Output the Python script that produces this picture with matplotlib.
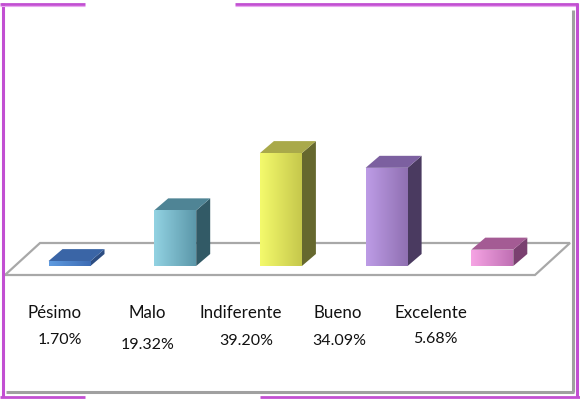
import matplotlib
matplotlib.use("Agg")
import matplotlib.pyplot as plt
import numpy as np
from matplotlib.patches import Polygon, Rectangle
from matplotlib.colors import LinearSegmentedColormap
from matplotlib.lines import Line2D

# ---- data ----
categories = ["Pésimo", "Malo", "Indiferente", "Bueno", "Excelente"]
values = [1.70, 19.32, 39.20, 34.09, 5.68]
pct_labels = ["1.70%", "19.32%", "39.20%", "34.09%", "5.68%"]

# ---- styles ----
front_left = ["#5f9be0", "#92d2e2", "#f4fa6c", "#bd9ce6", "#f6a4e4"]
front_right = ["#3d6cb4", "#5c98aa", "#c6c84c", "#9070b2", "#c070b4"]
top_col = ["#3a65a6", "#4f8495", "#a9a94a", "#7c60a0", "#a45b94"]
side_col = ["#2c4d82", "#325a66", "#66682e", "#4a3a60", "#7a4070"]

W, H = 580, 399
fig = plt.figure(figsize=(W / 100, H / 100), dpi=100)
ax = fig.add_axes([0, 0, 1, 1])
# axes scale: category units horizontally, percent vertically
px_per_cat = 105.7
px_per_pct = 2.88
x0_pix, base_pix = 69.5, 266
ax.set_xlim(-x0_pix / px_per_cat, (W - x0_pix) / px_per_cat)
ax.set_ylim(-(H - base_pix) / px_per_pct, base_pix / px_per_pct)
ax.axis("off")

# floor
fdx = 35 / px_per_cat
fy0 = -9 / px_per_pct
fy1 = 23 / px_per_pct
fxl = -64.5 / px_per_cat
fxr = 465.5 / px_per_cat
floor = Polygon([(fxl, fy0), (fxr, fy0), (fxr + fdx, fy1), (fxl + fdx, fy1)],
                closed=True, facecolor="white", edgecolor="#a8a8a8", lw=1.6, zorder=1)
ax.add_patch(floor)

bw = 42 / px_per_cat
ddx = 14 / px_per_cat
ddy = 12 / px_per_pct

for i, v in enumerate(values):
    xl = i - bw / 2
    xr = i + bw / 2
    side = Polygon([(xr, 0), (xr + ddx, ddy), (xr + ddx, v + ddy), (xr, v)],
                   closed=True, facecolor=side_col[i], edgecolor="none", zorder=3)
    ax.add_patch(side)
    top = Polygon([(xl, v), (xr, v), (xr + ddx, v + ddy), (xl + ddx, v + ddy)],
                  closed=True, facecolor=top_col[i], edgecolor="none", zorder=3)
    ax.add_patch(top)
    cmap = LinearSegmentedColormap.from_list("g%d" % i, [front_left[i], front_right[i]])
    grad = np.linspace(0, 1, 64).reshape(1, -1)
    im = ax.imshow(grad, cmap=cmap, extent=(xl, xr, 0, v), aspect="auto",
                   interpolation="bilinear", zorder=4)
    rect = Rectangle((xl, 0), bw, v, facecolor="none", edgecolor="none", zorder=4)
    ax.add_patch(rect)
    im.set_clip_path(rect)

# labels (pixel layout)
cat_x = [55, 147, 241, 338, 431]
pct_x = [60, 148, 246, 339, 435]
pct_y = [340, 345, 341, 341, 339]
font = ["Lato", "DejaVu Sans"]
for i in range(len(categories)):
    fig.text(cat_x[i] / W, 1 - 313 / H, categories[i], ha="center", va="center",
             fontsize=12.2, color="#111111", family=font)
    fig.text(pct_x[i] / W, 1 - pct_y[i] / H, pct_labels[i], ha="center", va="center",
             fontsize=11.5, color="#111111", family=font)

# frame
purple = "#c24fd2"
pink = "#eaa8f0"
gray = "#a0a0a0"
def pline(xs, ys, c, lw):
    fig.add_artist(Line2D([x / W for x in xs], [1 - y / H for y in ys],
                          color=c, lw=lw, solid_capstyle="butt"))

pline([572.5, 572.5], [10, 392], gray, 2.2)
pline([6, 574], [392, 392], gray, 2.2)
pline([2.5, 2.5], [3, 397], purple, 2.2)
pline([0, 85], [4, 4], purple, 2.0)
pline([235, 578], [4, 4], purple, 2.0)
pline([0, 85], [5.5, 5.5], pink, 0.8)
pline([235, 576], [5.5, 5.5], pink, 0.8)
pline([577, 577], [3, 397], purple, 2.2)
pline([0, 85], [396.5, 396.5], purple, 2.0)
pline([260, 580], [396.5, 396.5], purple, 2.0)

fig.savefig("out.png", dpi=100)
